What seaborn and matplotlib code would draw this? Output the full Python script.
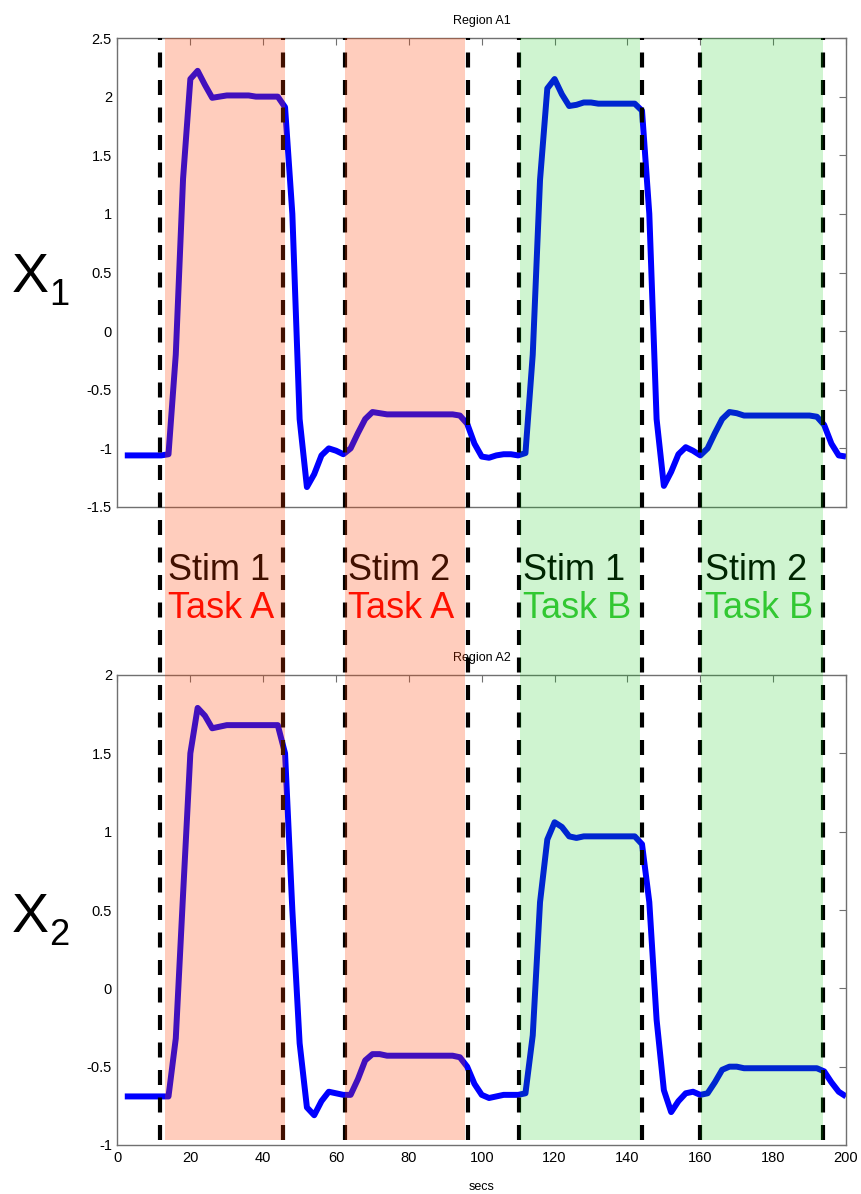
import numpy as np
import matplotlib
matplotlib.use("Agg")
import matplotlib.pyplot as plt
import seaborn as sns

# ---------------- data ----------------
t = np.arange(2, 201, 2)

x1 = [-1.06, -1.06, -1.06, -1.06, -1.06, -1.06, -1.05, -0.20, 1.30, 2.15,
      2.22, 2.10, 1.99, 2.00, 2.01, 2.01, 2.01, 2.01, 2.00, 2.00,
      2.00, 2.00, 1.91, 1.00, -0.75, -1.33, -1.22, -1.06, -1.00, -1.02,
      -1.05, -1.00, -0.87, -0.75, -0.69, -0.70, -0.71, -0.71, -0.71, -0.71,
      -0.71, -0.71, -0.71, -0.71, -0.71, -0.71, -0.72, -0.79, -0.96, -1.07,
      -1.08, -1.06, -1.05, -1.05, -1.06, -1.04, -0.20, 1.29, 2.07, 2.15,
      2.02, 1.92, 1.93, 1.95, 1.95, 1.94, 1.94, 1.94, 1.94, 1.94,
      1.94, 1.88, 1.00, -0.75, -1.32, -1.20, -1.05, -0.99, -1.02, -1.06,
      -1.00, -0.87, -0.75, -0.69, -0.70, -0.72, -0.72, -0.72, -0.72, -0.72,
      -0.72, -0.72, -0.72, -0.72, -0.72, -0.73, -0.80, -0.96, -1.06, -1.07]

x2 = [-0.69, -0.69, -0.69, -0.69, -0.69, -0.69, -0.69, -0.32, 0.60, 1.50,
      1.79, 1.74, 1.66, 1.67, 1.68, 1.68, 1.68, 1.68, 1.68, 1.68,
      1.68, 1.68, 1.50, 0.50, -0.35, -0.76, -0.81, -0.72, -0.66, -0.67,
      -0.68, -0.68, -0.58, -0.46, -0.42, -0.42, -0.43, -0.43, -0.43, -0.43,
      -0.43, -0.43, -0.43, -0.43, -0.43, -0.43, -0.44, -0.50, -0.61, -0.68,
      -0.70, -0.69, -0.68, -0.68, -0.68, -0.67, -0.30, 0.55, 0.95, 1.06,
      1.03, 0.97, 0.96, 0.97, 0.97, 0.97, 0.97, 0.97, 0.97, 0.97,
      0.97, 0.92, 0.55, -0.20, -0.65, -0.79, -0.72, -0.67, -0.66, -0.68,
      -0.67, -0.60, -0.52, -0.50, -0.50, -0.51, -0.51, -0.51, -0.51, -0.51,
      -0.51, -0.51, -0.51, -0.51, -0.51, -0.51, -0.53, -0.60, -0.66, -0.69]

event_lines = [11.7, 45.4, 62.5, 96.2, 110.1, 143.9, 159.8, 193.6]
block_start = [13.0, 62.5, 110.4, 160.3]
block_end = [46.0, 95.5, 143.4, 193.6]
block_task = ["A", "A", "B", "B"]
stim_labels = ["Stim 1", "Stim 2", "Stim 1", "Stim 2"]
task_labels = ["Task A", "Task A", "Task B", "Task B"]

x_ticks = [0, 20, 40, 60, 80, 100, 120, 140, 160, 180, 200]
y1_ticks = [-1.5, -1, -0.5, 0, 0.5, 1, 1.5, 2, 2.5]
y2_ticks = [-1, -0.5, 0, 0.5, 1, 1.5, 2]

# ---------------- style ----------------
sns.set_theme(style="white")
plt.rcParams["font.family"] = ["Liberation Sans", "DejaVu Sans"]
plt.rcParams["text.color"] = "black"
plt.rcParams["axes.labelcolor"] = "black"
plt.rcParams["xtick.color"] = "black"
plt.rcParams["ytick.color"] = "black"

W, H = 861, 1194
fig = plt.figure(figsize=(W / 100, H / 100), dpi=100)
fig.patch.set_facecolor("white")

left = 117.5 / W
right = 846 / W
width = right - left


def frac_y(px):
    return 1 - px / H


ax1 = fig.add_axes([left, frac_y(507), width, frac_y(38) - frac_y(507)])
ax2 = fig.add_axes([left, frac_y(1145), width, frac_y(675) - frac_y(1145)])

blue = "#0000ff"
spine_col = "#707070"


def fmt(v):
    return "%g" % v


for ax, y, yt, ylim, title in [(ax1, x1, y1_ticks, (-1.5, 2.5), "Region A1"),
                               (ax2, x2, y2_ticks, (-1, 2), "Region A2")]:
    sns.lineplot(x=t, y=y, ax=ax, color=blue, lw=4.3, solid_capstyle="butt",
                 solid_joinstyle="round")
    ax.set_xlim(0, 200)
    ax.set_ylim(*ylim)
    ax.set_yticks(yt)
    ax.set_yticklabels([fmt(v) for v in yt])
    ax.set_xticks(x_ticks)
    ax.set_facecolor("white")
    for sp in ax.spines.values():
        sp.set_visible(True)
        sp.set_color(spine_col)
        sp.set_linewidth(1.0)
    ax.tick_params(direction="in", length=5, width=0.8, color=spine_col,
                   top=True, right=True, labelsize=10.5, labelcolor="black",
                   pad=4)
    ax.set_title(title, fontsize=9, pad=10, color="black")
    ax.set_xlabel("")
    ax.set_ylabel("")

ax1.set_xticklabels([])
ax2.set_xticklabels([str(v) for v in x_ticks])
ax2.set_xlabel("secs", fontsize=9, labelpad=12, color="black")

# overlay axes spanning both panels
ov_bottom = frac_y(1140)
ov_top = frac_y(38)
ov = fig.add_axes([left, ov_bottom, width, ov_top - ov_bottom], zorder=5)
ov.set_facecolor("none")
ov.set_xlim(0, 200)
ov.set_ylim(0, 1)
ov.axis("off")

for xv in event_lines:
    ov.axvline(xv, color="black", lw=3.0, linestyle=(0, (3.6, 3.0)),
               dash_capstyle="butt", zorder=1)

task_col = {"A": "#ff0000", "B": "#3ec83c"}
shade_col = {"A": ("#ff4000", 0.26), "B": ("#00c80a", 0.19)}

for s, e, tk, sl, tl in zip(block_start, block_end, block_task,
                            stim_labels, task_labels):
    ov.text(s + 0.9, 0.517, sl, fontsize=26, color="black",
            ha="left", va="center", zorder=2)
    ov.text(s + 0.9, 0.482, tl, fontsize=26, color=task_col[tk],
            ha="left", va="center", zorder=2)
    c, a = shade_col[tk]
    ov.axvspan(s, e, color=c, alpha=a, lw=0, zorder=3)

# big panel labels X1, X2
fig.text(12 / W, frac_y(292), "X", fontsize=40, ha="left", va="baseline",
         color="black")
fig.text(49 / W, frac_y(305), "1", fontsize=26, ha="left", va="baseline",
         color="black")
fig.text(12 / W, frac_y(932), "X", fontsize=40, ha="left", va="baseline",
         color="black")
fig.text(49 / W, frac_y(945), "2", fontsize=26, ha="left", va="baseline",
         color="black")

fig.savefig("out.png", dpi=100, facecolor="white")
